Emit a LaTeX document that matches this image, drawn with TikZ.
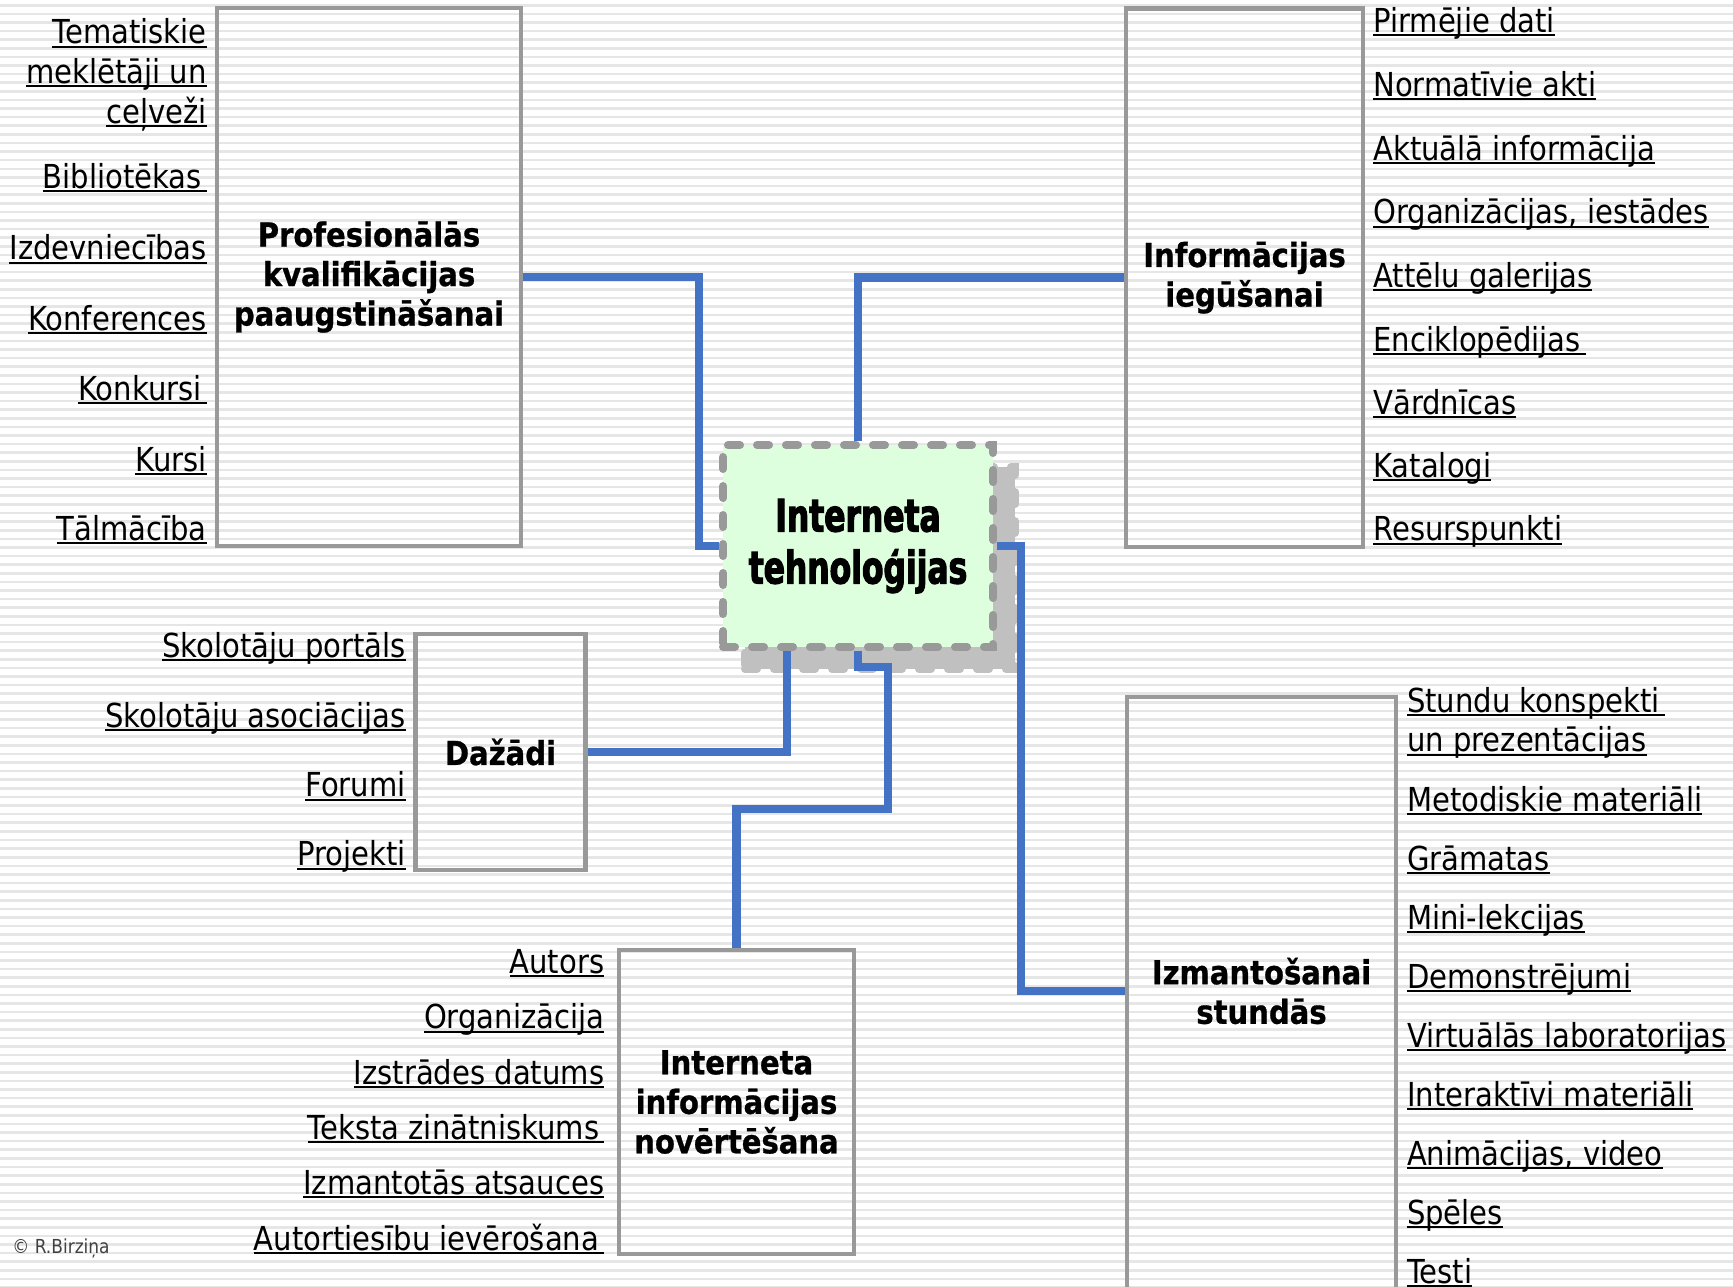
\documentclass[tikz,border=0pt]{standalone}
\usepackage{fontspec}
\setmainfont{DejaVu Sans}[FakeStretch=0.88,BoldFeatures={FakeBold=0.8}]
\newfontfamily\hubfont{DejaVu Sans}[FakeStretch=0.7,FakeBold=2.5]
\usepackage{tikz}
\usetikzlibrary{positioning}
\definecolor{stripe}{HTML}{E6E6E6}
\definecolor{frame}{HTML}{999999}
\definecolor{linkblue}{HTML}{4472C4}
\definecolor{hubfill}{HTML}{DDFFDD}
\definecolor{shade}{HTML}{C0C0C0}
\newcommand{\lnk}[1]{\setbox0\hbox{#1}\rlap{\rule[-0.08cm]{\wd0}{0.04cm}}\box0}
\newcommand{\tsp}{\kern0.1cm}

\begin{document}
\begin{tikzpicture}[x=0.02cm,y=-0.02cm,
                every node/.style={font=\fontsize{18.8}{22.5}\selectfont,inner sep=0pt},
                box/.style={draw=frame,line width=0.09cm,align=center,font=\fontsize{18.8}{22.5}\selectfont\bfseries},
                hub/.style={draw=frame,fill=hubfill,line width=0.16cm,dash pattern=on 0.24cm off 0.34cm,line cap=round,
                            minimum width=5.4cm,minimum height=4.04cm,align=center,font=\fontsize{25.5}{29.6}\selectfont\hubfont\bfseries},
                hubshade/.style={hub,draw=shade,fill=shade},
                link/.style={draw=linkblue,line width=0.17cm},
                lft/.style={anchor=base east,align=right},
                rgt/.style={anchor=base west,align=left}]
  \useasboundingbox (0,0) rectangle (1733,1286);
  % striped background
  \foreach \k in {0,...,149}
    \fill[stripe] (0,{4+8.605*\k}) rectangle (1733,{6.6+8.605*\k});

  % boxes
  \node[box,minimum width=6.08cm,minimum height=10.76cm] (prof) at (369,277)    {Profesionālās\\kvalifikācijas\\paaugstināšanai};
  \node[box,minimum width=4.74cm,minimum height=10.77cm] (info) at (1244.5,277.7) {Informācijas\\iegūšanai};
  \node[box,minimum width=3.4cm,minimum height=4.72cm]   (daz)  at (500.5,752)  {Dažādi};
  \node[box,minimum width=4.7cm,minimum height=6.08cm]   (nov)  at (736.5,1102) {Interneta\\informācijas\\novērtēšana};
  \node[box,minimum width=5.39cm,minimum height=12.2cm]  (izm)  at (1261.5,1002) {};
  \node[box,draw=none]                                   (izmtitle) at (1261.5,991) {Izmantošanai\\stundās};

  \node[hubshade] (hubshade) at (880,568) {};
  \node[hub]      (hub)      at (858,546) {Interneta\\tehnoloģijas};

  % connectors
  \draw[link] (prof.east) -- ++(176,0) |- (hub.west);
  \draw[link] (hub.north) |- (info.west);
  \draw[link] (hub.east) -- ++(24,0) |- ([yshift=0.22cm]izm.west);
  \draw[link] (daz.east) -| ([xshift=-1.42cm]hub.south);
  \draw[link] (hub.south) -- ++(0,16) -- ++(30,0) -- ++(0,142) -| (nov.north);

  % links: Profesionālās kvalifikācijas paaugstināšanai
  \node[lft] (tem)  at (207,123)  {\lnk{Tematiskie}\\\lnk{meklētāji un}\\\lnk{ceļveži}};
  \node[lft] (bib)  at (207,188)  {\lnk{Bibliotēkas\tsp}};
  \node[lft] (izd)  at (207,259.5){\lnk{Izdevniecības}};
  \node[lft] (konf) at (207,330)  {\lnk{Konferences}};
  \node[lft] (konk) at (207,400)  {\lnk{Konkursi\tsp}};
  \node[lft] (kur)  at (207,471)  {\lnk{Kursi}};
  \node[lft] (tal)  at (207,540)  {\lnk{Tālmācība}};

  % links: Informācijas iegūšanai
  \node[rgt] (pirm) at (1373,32)    {\lnk{Pirmējie dati}};
  \node[rgt] (norm) at (1373,96)    {\lnk{Normatīvie akti}};
  \node[rgt] (akt)  at (1373,160)   {\lnk{Aktuālā informācija}};
  \node[rgt] (org)  at (1373,223.5) {\lnk{Organizācijas, iestādes}};
  \node[rgt] (att)  at (1373,287)   {\lnk{Attēlu galerijas}};
  \node[rgt] (enc)  at (1373,351)   {\lnk{Enciklopēdijas\tsp}};
  \node[rgt] (vard) at (1373,414)   {\lnk{Vārdnīcas}};
  \node[rgt] (kat)  at (1373,477)   {\lnk{Katalogi}};
  \node[rgt] (res)  at (1373,540.5) {\lnk{Resurspunkti}};

  % links: Dažādi
  \node[lft] (port) at (406,657)   {\lnk{Skolotāju portāls}};
  \node[lft] (asoc) at (406,727)   {\lnk{Skolotāju asociācijas}};
  \node[lft] (for)  at (406,796.5) {\lnk{Forumi}};
  \node[lft] (proj) at (406,865.5) {\lnk{Projekti}};

  % links: Interneta informācijas novērtēšana
  \node[lft] (aut)  at (604.5,973)    {\lnk{Autors}};
  \node[lft] (orgn) at (604.5,1028.5) {\lnk{Organizācija}};
  \node[lft] (dat)  at (604.5,1084)   {\lnk{Izstrādes datums}};
  \node[lft] (zin)  at (604.5,1139)   {\lnk{Teksta zinātniskums\tsp}};
  \node[lft] (ats)  at (604.5,1194)   {\lnk{Izmantotās atsauces}};
  \node[lft] (ties) at (604.5,1250)   {\lnk{Autortiesību ievērošana\tsp}};

  % links: Izmantošanai stundās
  \node[rgt] (kons) at (1406.7,751.7) {\lnk{Stundu konspekti\tsp}\\\lnk{un prezentācijas}};
  \node[rgt] (met)  at (1406.7,811)  {\lnk{Metodiskie materiāli}};
  \node[rgt] (gram) at (1406.7,870)  {\lnk{Grāmatas}};
  \node[rgt] (mini) at (1406.7,929)  {\lnk{Mini-lekcijas}};
  \node[rgt] (dem)  at (1406.7,988)  {\lnk{Demonstrējumi}};
  \node[rgt] (virt) at (1406.7,1047) {\lnk{Virtuālās laboratorijas}};
  \node[rgt] (int)  at (1406.7,1106) {\lnk{Interaktīvi materiāli}};
  \node[rgt] (anim) at (1406.7,1165) {\lnk{Animācijas, video}};
  \node[rgt] (spel) at (1406.7,1224) {\lnk{Spēles}};
  \node[rgt] (test) at (1406.7,1283) {\lnk{Testi}};

  \node[anchor=base west,font=\fontsize{11}{13}\selectfont,text=black!75] (copy) at (12,1253) {© R.Birziņa};
\end{tikzpicture}
\end{document}
